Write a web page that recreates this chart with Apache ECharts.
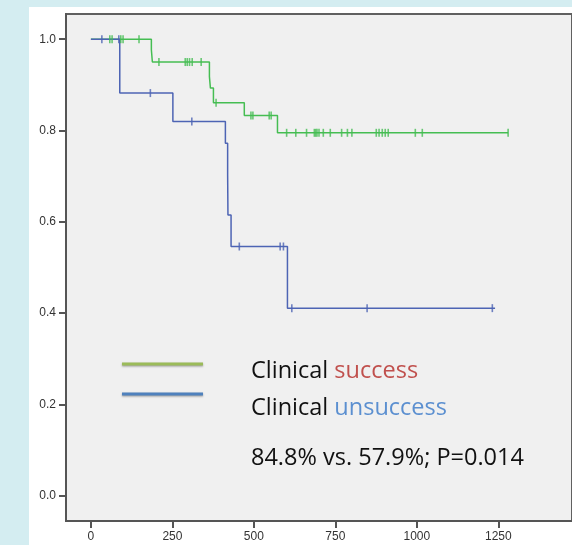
<!DOCTYPE html>
<html><head><meta charset="utf-8">
<script src="https://cdn.jsdelivr.net/npm/echarts@6/dist/echarts.min.js"></script>
<style>
html,body{margin:0;padding:0;background:#d4edf1;overflow:hidden;}
#panel{position:absolute;left:29px;top:7px;width:543px;height:538px;background:#ffffff;}
#c{position:absolute;left:0;top:0;width:572px;height:545px;}
</style>
</head><body><div id="panel"></div><div id="c"></div>
<script>
// ---- data ----
const successEventTimes = [0, 185.5, 188.6, 363.6, 366.7, 375.9, 470.6, 572.4];
const successSurvival   = [1, 0.977, 0.950, 0.918, 0.893, 0.861, 0.833, 0.795];
const successEndTime = 1280;
const successCensorTimes = [58, 65, 91.7, 98.7, 147.6, 208.7, 289.4, 295.5, 302.5, 310.8, 338.3, 384,
  491, 497, 547, 553, 600.5, 628.6, 661.6, 685.5, 689.7, 693.7, 699.8, 713, 734.4, 769.2, 787, 800.7,
  875.5, 884.1, 893.9, 903, 912.2, 995.3, 1016.7, 1280];

const unsuccessEventTimes = [0, 88.6, 251.5, 412.6, 419.5, 420.5, 430, 603];
const unsuccessSurvival   = [1, 0.882, 0.8195, 0.772, 0.703, 0.615, 0.546, 0.411];
const unsuccessEndTime = 1240;
const unsuccessCensorTimes = [33.6, 85.6, 182.4, 309.6, 455.3, 580.6, 590.7, 616.4, 847.4, 1231.6];

const xTicks = [0, 250, 500, 750, 1000, 1250];
const yTicks = [0, 0.2, 0.4, 0.6, 0.8, 1.0];

const legendNames = ['success', 'unsuccess'];
const annotation = '84.8% vs. 57.9%; P=0.014';

// ---- helpers ----
function stepData(times, surv, endT) {
  const d = times.map((t, i) => [t, surv[i]]);
  d.push([endT, surv[surv.length - 1]]);
  return d;
}
function survAt(times, surv, t) {
  let s = surv[0];
  for (let i = 0; i < times.length; i++) if (times[i] <= t) s = surv[i];
  return s;
}
function censorData(times, surv, cens) {
  return cens.map(t => [t, survAt(times, surv, t)]);
}

const GREEN = '#45bd52', BLUE = '#4d64b4';
const chart = echarts.init(document.getElementById('c'), null, {renderer: 'canvas'});
const axisColor = '#555555';
const labelStyle = {color: '#333333', fontSize: 12, fontFamily: 'Liberation Sans, Arial, sans-serif'};
const TF = '23.5px "Open Sans"';

chart.setOption({
  backgroundColor: 'transparent',
  animation: false,
  grid: {left: 66, top: 14, right: -2, bottom: 24, show: true, backgroundColor: '#f0f0f0',
         borderColor: '#606060', borderWidth: 2},
  xAxis: {
    type: 'value', min: -76.4, max: 1476,
    splitLine: {show: false},
    axisLine: {show: true, onZero: false, lineStyle: {color: axisColor, width: 2}},
    axisTick: {show: true, customValues: xTicks, length: 7, lineStyle: {color: axisColor, width: 2}},
    axisLabel: Object.assign({customValues: xTicks, margin: 10, formatter: v => String(v)}, labelStyle)
  },
  yAxis: {
    type: 'value', min: -0.0552, max: 1.0552,
    splitLine: {show: false},
    axisLine: {show: true, onZero: false, lineStyle: {color: axisColor, width: 2}},
    axisTick: {show: true, customValues: yTicks, length: 7, lineStyle: {color: axisColor, width: 2}},
    axisLabel: Object.assign({customValues: yTicks, margin: 10, formatter: v => v.toFixed(1)}, labelStyle)
  },
  series: [
    {type: 'line', step: 'end', symbol: 'none', data: stepData(successEventTimes, successSurvival, successEndTime),
     lineStyle: {color: GREEN, width: 1.5}, z: 3},
    {type: 'line', step: 'end', symbol: 'none', data: stepData(unsuccessEventTimes, unsuccessSurvival, unsuccessEndTime),
     lineStyle: {color: BLUE, width: 1.5}, z: 3},
    {type: 'scatter', symbol: 'rect', symbolSize: [1.6, 8], itemStyle: {color: GREEN},
     data: censorData(successEventTimes, successSurvival, successCensorTimes), z: 4},
    {type: 'scatter', symbol: 'rect', symbolSize: [1.6, 8], itemStyle: {color: BLUE},
     data: censorData(unsuccessEventTimes, unsuccessSurvival, unsuccessCensorTimes), z: 4}
  ],
  graphic: [
    {type: 'line', shape: {x1: 122, y1: 364, x2: 203, y2: 364}, z: 10,
     style: {stroke: '#9bbb59', lineWidth: 3, shadowBlur: 2, shadowOffsetY: 1, shadowColor: 'rgba(0,0,0,0.35)'}},
    {type: 'line', shape: {x1: 122, y1: 394, x2: 203, y2: 394}, z: 10,
     style: {stroke: '#4f81bd', lineWidth: 3, shadowBlur: 2, shadowOffsetY: 1, shadowColor: 'rgba(0,0,0,0.35)'}},
    {type: 'text', x: 251, y: 371, z: 10,
     style: {text: '{a|Clinical} {r|' + legendNames[0] + '}', verticalAlign: 'middle',
       font: TF, rich: {a: {fill: '#111', font: TF}, r: {fill: '#c0504d', font: TF}}}},
    {type: 'text', x: 251, y: 408, z: 10,
     style: {text: '{a|Clinical} {b|' + legendNames[1] + '}', verticalAlign: 'middle',
       font: TF, rich: {a: {fill: '#111', font: TF}, b: {fill: '#5b8fd0', font: TF}}}},
    {type: 'text', x: 251, y: 458, z: 10,
     style: {text: annotation, verticalAlign: 'middle', fill: '#111', font: TF}}
  ]
});
</script>
</body></html>
